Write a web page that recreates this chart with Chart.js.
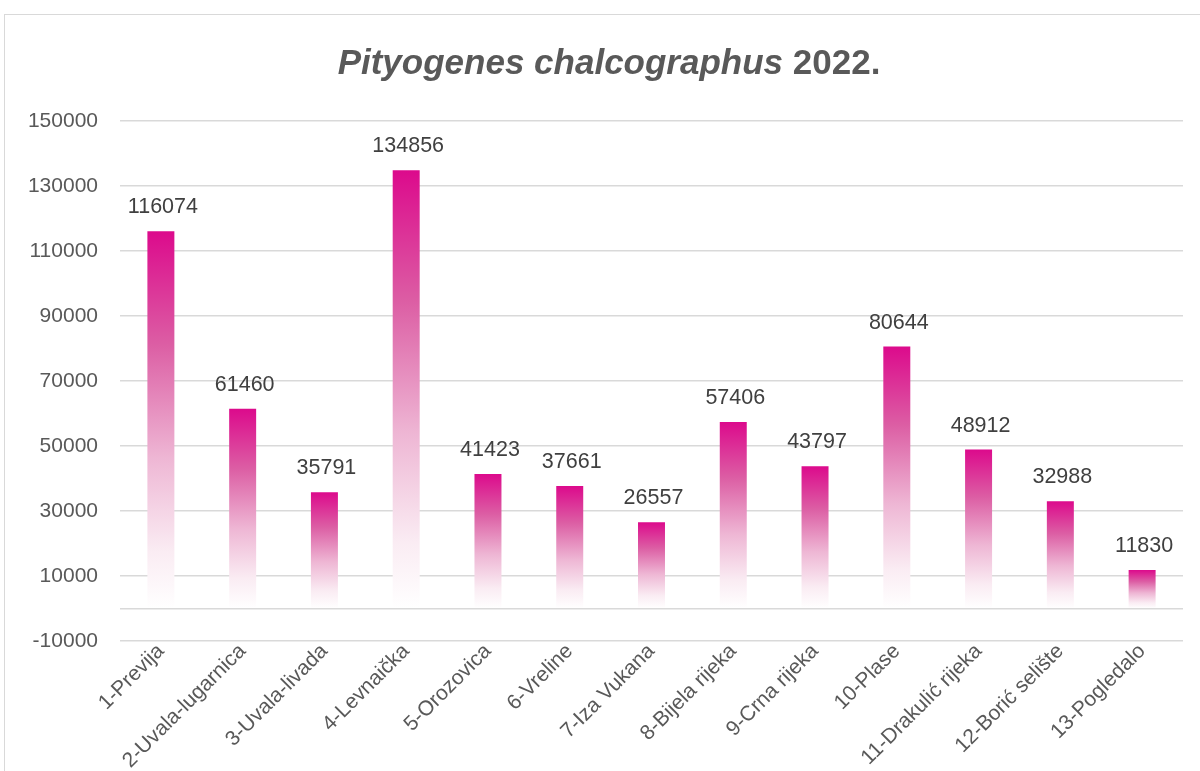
<!DOCTYPE html>
<html>
<head>
<meta charset="utf-8">
<script src="https://cdn.jsdelivr.net/npm/chart.js@4/dist/chart.umd.min.js"></script>
<style>
  html, body { margin: 0; padding: 0; background: #fff; }
  #wrap { width: 1200px; height: 771px; }
</style>
</head>
<body>
<div id="wrap"><canvas id="chart" width="1200" height="771"></canvas></div>
<script>
let sites = ["1-Previja", "2-Uvala-lugarnica", "3-Uvala-livada", "4-Levnaička", "5-Orozovica", "6-Vreline",
  "7-Iza Vukana", "8-Bijela rijeka", "9-Crna rijeka", "10-Plase", "11-Drakulić rijeka", "12-Borić selište", "13-Pogledalo"];
let beetles = [116074, 61460, 35791, 134856, 41423, 37661, 26557, 57406, 43797, 80644, 48912, 32988, 11830];
let yTicks = [-10000, 0, 10000, 30000, 50000, 70000, 90000, 110000, 130000, 150000];

const FONT = "'Liberation Sans', Arial, sans-serif";

// gradient from magenta on top of each bar down to white at zero
function barFill(context){
	let chart = context.chart;
	let y = chart.scales.y;
	if(!chart.chartArea || !y || context.parsed == null) return "#dc0a8c";
	let top = y.getPixelForValue(context.parsed.y);
	let base = y.getPixelForValue(0);
	if(!isFinite(top) || !isFinite(base) || top == base) return "#dc0a8c";
	let g = chart.ctx.createLinearGradient(0, top, 0, base);
	g.addColorStop(0, "#dc0a8c");
	g.addColorStop(0.3, "#dc5ea4");
	g.addColorStop(0.6, "#eeb6d4");
	g.addColorStop(0.85, "#faecf3");
	g.addColorStop(1, "#ffffff");
	return g;
}

// frame, title and value labels
const decorations = {
	id: "decorations",
	beforeDraw(chart){
		let ctx = chart.ctx;
		ctx.save();
		ctx.strokeStyle = "#d9d9d9";
		ctx.lineWidth = 1;
		ctx.strokeRect(4.5, 14.5, 1205, 800);
		ctx.restore();
	},
	afterDraw(chart){
		let ctx = chart.ctx;
		ctx.save();
		// title, italic species name + upright year
		let part1 = "Pityogenes chalcographus ";
		let part2 = "2022.";
		ctx.fillStyle = "#595959";
		ctx.textBaseline = "alphabetic";
		ctx.font = "italic bold 35px " + FONT;
		let w1 = ctx.measureText(part1).width;
		ctx.font = "bold 35px " + FONT;
		let w2 = ctx.measureText(part2).width;
		let x0 = 609 - (w1 + w2) / 2;
		ctx.font = "italic bold 35px " + FONT;
		ctx.fillText(part1, x0, 74);
		ctx.font = "bold 35px " + FONT;
		ctx.fillText(part2, x0 + w1, 74);

		// values above bars
		let meta = chart.getDatasetMeta(0);
		ctx.font = "21.5px " + FONT;
		ctx.fillStyle = "#404040";
		ctx.textAlign = "center";
		ctx.textBaseline = "bottom";
		meta.data.forEach((bar, i) => {
			ctx.fillText(String(beetles[i]), bar.x + 2, bar.y - 13);
		});
		ctx.restore();
	}
};

let ctx = document.getElementById("chart").getContext("2d");
let chart = new Chart(ctx, {
	type: "bar",
	data: {
		labels: sites,
		datasets: [{
			label: "Pityogenes chalcographus 2022.",
			data: beetles,
			backgroundColor: barFill,
			borderWidth: 0,
			categoryPercentage: 1,
			barPercentage: 0.33
		}]
	},
	options: {
		responsive: false,
		animation: false,
		layout: { padding: { top: 121, right: 17, left: 0, bottom: 0 } },
		plugins: {
			legend: { display: false },
			title: { display: false },
			tooltip: { enabled: false }
		},
		scales: {
			x: {
				grid: { display: false },
				border: { display: false },
				ticks: {
					color: "#595959",
					font: { family: FONT, size: 21 },
					minRotation: 45,
					maxRotation: 45,
					padding: -10
				},
				afterFit(scale){ scale.height = 130; }
			},
			y: {
				min: -10000,
				max: 150000,
				border: { display: false },
				grid: { color: "#d9d9d9", lineWidth: 1.5, drawTicks: false },
				ticks: {
					color: "#595959",
					font: { family: FONT, size: 21 },
					padding: 22,
					callback: (v) => v == 0 ? "" : String(v)
				},
				afterBuildTicks(scale){
					scale.ticks = yTicks.map(v => ({ value: v }));
				},
				afterFit(scale){ scale.width = 120; }
			}
		}
	},
	plugins: [decorations]
});
</script>
</body>
</html>
